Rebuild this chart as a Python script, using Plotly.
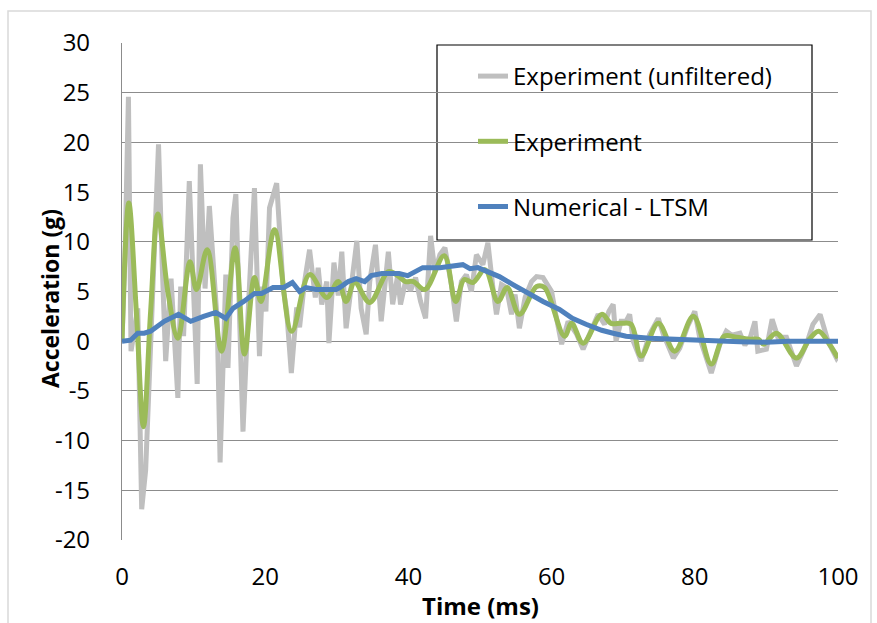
import plotly.graph_objects as go

# ---------------- data ----------------
time_raw = [0, 0.4, 0.9, 1.26, 1.7, 2.2, 2.75, 3.3, 3.8, 4.5, 5.1, 5.6, 6.1, 6.85, 7.3, 7.8, 8.2, 8.6,
            9.4, 9.9, 10.5, 10.95, 11.6, 12.2, 12.9, 13.3, 13.7, 14.1, 14.5, 14.8, 15.5, 15.9, 16.4,
            16.9, 17.6, 18.0, 18.5, 19.2, 19.6, 20.1, 20.6, 21.6, 22.5, 23.0, 23.65, 24.4, 24.8, 25.5,
            26.2, 27.0, 27.4, 27.9, 28.6, 28.9, 29.6, 30.2, 30.7, 31.3, 32.0, 32.8, 33.4, 34.1, 34.6,
            35.4, 36.2, 37.2, 37.8, 38.5, 38.9, 39.6, 40.3, 41.0, 41.7, 42.4, 43.1, 43.7, 44.4, 45.1,
            46.0, 46.7, 47.4, 48.1, 48.8, 49.5, 50.4, 51.1, 51.8, 52.3, 53.0, 53.7, 54.4, 54.9, 55.5,
            56.3, 57.2, 57.9, 58.8, 59.5, 60.0, 60.5, 61.4, 62.3, 63.0, 63.5, 64.4, 65.3, 66.5, 67.4,
            68.0, 68.6, 69.0, 69.7, 70.4, 70.9, 71.4, 72.5, 73.7, 74.9, 75.6, 77.0, 77.9, 79.0, 80.0,
            80.7, 81.5, 82.3, 83.5, 84.4, 85.2, 86.3, 87.0, 87.8, 88.4, 88.8, 90.0, 90.8, 91.6, 92.8,
            94.2, 95.6, 96.5, 97.5, 98.6, 99.8, 100]
accel_raw = [0, 8, 24.6, -1.0, 1, 3.3, -16.9, -13, -4, 8, 19.8, 8, -2.0, 6.3, 1, -5.7, 5.5, 0.5,
             16.1, 6, -4.3, 17.8, 5.3, 13.6, 7, 2, -12.2, -3, 6.7, -2.7, 12.4, 14.8, 3,
             -9.1, 2.7, 8, 15.4, -1.5, 5.5, 3, 13.4, 15.9, 5.4, 3, -3.2, 3.4, 1.4, 6,
             9.2, 4.4, 7.4, 3.7, 6.0, -0.2, 7.9, 4.6, 9.0, 1.3, 5, 10.1, 3.3, 0.7, 6,
             9.7, 2.0, 9.0, 3.7, 6.6, 3.7, 6.0, 5.1, 6.4, 4, 2.3, 10.6, 7.0, 8.7, 9.4,
             5.7, 2.0, 6, 6.7, 5, 8.7, 7.7, 9.9, 5.4, 2.7, 5.7, 5.4, 2.7, 4.7, 1.3,
             4.4, 6, 6.5, 6.4, 5.5, 5.0, 3.0, -0.3, 2.0, 1.3, 0.7, -0.8, 0.7, 2.7, 1.7,
             3.0, 3.7, 0, 2.0, 2.0, 2.7, 0, -2.0, 0.7, 2.3, 0.7, -1.7, -0.7, 1.5, 3.0,
             0.3, -1.5, -3.2, -0.3, 1.0, 0.6, 0.8, -0.4, 0.5, 2.0, -1.0, -0.8, 2.2, 0.4, 0.4,
             -2.5, -0.3, 1.7, 2.7, 0, -1.7, -1.5]

time_filt = [0, 0.95, 2.0, 3.0, 4.0, 5.0, 6.4, 7.8, 9.5, 10.4, 11.9, 13.9, 15.8, 17.1, 18.5, 19.4,
             21.3, 23.7, 26.2, 28.6, 30.2, 31.3, 32.5, 34.6, 37.2, 38.5, 39.6, 40.7, 42.3, 45.0,
             46.6, 47.8, 49.0, 50.7, 52.5, 53.8, 55.5, 57.9, 59.0, 61.8, 62.8, 64.4, 67.0, 68.3,
             69.7, 71.1, 72.5, 74.9, 77.2, 79.8, 82.3, 84.1, 85.8, 87.7, 88.9, 89.6, 91.4, 94.2,
             96.0, 97.3, 98.8, 100]
accel_filt = [0, 13.9, 3, -8.6, 3, 12.8, 5, 0.3, 8.0, 5.2, 9.2, -1.0, 9.4, -1.3, 6.4, 4.0,
              11.2, 1.0, 6.7, 4.4, 6.0, 4.0, 5.9, 3.9, 7.0, 6.6, 6.0, 6.0, 5.2, 8.6,
              4.0, 6.2, 5.9, 7.2, 4.0, 5.4, 2.7, 5.5, 5.4, 0.5, 1.8, -0.2, 2.7, 1.8,
              1.8, 1.7, -1.5, 1.8, -1.0, 2.5, -2.3, 0.5, 0.4, 0.2, 0.2, -0.3, 0.8, -1.7,
              0.2, 1.0, -0.3, -1.7]

time_num = [0, 1.2, 2.2, 3.1, 4.0, 5.9, 7.9, 9.6, 11.4, 13.1, 14.5, 15.5, 17.0, 18.5, 19.5, 21.1,
            22.6, 23.8, 24.8, 25.7, 27.1, 29.9, 30.4, 31.6, 32.7, 33.9, 34.8, 36.3, 38.7, 39.9,
            42.0, 44.4, 47.6, 48.6, 49.7, 51.3, 52.7, 54.6, 56.5, 58.8, 61.1, 62.9, 64.8, 67.0,
            68.6, 70.4, 73.7, 77.4, 80.7, 86.3, 90.0, 93.0, 100]
accel_num = [0, 0.1, 0.8, 0.8, 1.0, 2.0, 2.7, 2.0, 2.5, 2.9, 2.3, 3.3, 4.0, 4.8, 4.8, 5.4,
             5.4, 5.9, 5.0, 5.4, 5.2, 5.2, 5.4, 6.0, 6.3, 6.0, 6.6, 6.8, 6.8, 6.6,
             7.4, 7.4, 7.7, 7.3, 7.4, 6.9, 6.5, 5.7, 4.9, 4.0, 3.2, 2.3, 1.7, 1.1,
             0.8, 0.5, 0.3, 0.2, 0.0, -0.05, -0.1, 0.0, 0.0]

series_names = ["Experiment (unfiltered)", "Experiment", "Numerical - LTSM"]
series_colors = ["#bfbfbf", "#9bbb59", "#4f81bd"]

x_ticks = [0, 20, 40, 60, 80, 100]
y_ticks = [-20, -15, -10, -5, 0, 5, 10, 15, 20, 25, 30]
y_tick_labels = ["-20", "-15", "-10", "-5", "0", "5", "10", "15", "20", "25", "30"]

FONT = "Open Sans"

fig = go.Figure()
fig.add_trace(go.Scatter(x=time_raw, y=accel_raw, mode="lines", name=series_names[0],
                         line=dict(color=series_colors[0], width=5), legendgroup="a"))
fig.add_trace(go.Scatter(x=time_filt, y=accel_filt, mode="lines", name=series_names[1],
                         line=dict(color=series_colors[1], width=5, shape="spline", smoothing=1.0),
                         legendgroup="b"))
fig.add_trace(go.Scatter(x=time_num, y=accel_num, mode="lines", name=series_names[2],
                         line=dict(color=series_colors[2], width=5), legendgroup="c"))

W, H = 877, 623
L, R, T, B = 122, 877 - 838, 43, 623 - 540
pw, ph = W - L - R, H - T - B


def px2paper_x(px):
    return (px - L) / pw


def px2paper_y(py):
    return (H - B - py) / ph


fig.update_layout(
    width=W, height=H,
    margin=dict(l=L, r=R, t=T, b=B, pad=0),
    paper_bgcolor="white", plot_bgcolor="white",
    font=dict(family=FONT, size=24, color="#000000"),
    showlegend=True,
    legend=dict(
        x=px2paper_x(473), y=px2paper_y(54), xanchor="left", yanchor="top",
        bgcolor="rgba(0,0,0,0)", borderwidth=0,
        font=dict(family=FONT, size=24, color="#000000"),
        tracegroupgap=31, itemwidth=30,
    ),
    xaxis=dict(
        range=[0, 100], tickvals=x_ticks, showgrid=False, zeroline=False,
        showline=False, ticks="", ticklabelstandoff=20,
        tickfont=dict(family=FONT, size=24, color="#000000"),
    ),
    yaxis=dict(
        range=[-20, 30], tickvals=y_ticks, ticktext=y_tick_labels,
        showgrid=True, gridcolor="#8c8c8c", gridwidth=1.2,
        zeroline=False, showline=True, linecolor="#8c8c8c", linewidth=1.2, ticks="",
        ticklabelstandoff=26,
        tickfont=dict(family=FONT, size=24, color="#000000"),
    ),
    shapes=[
        # outer chart border
        dict(type="rect", xref="paper", yref="paper",
             x0=px2paper_x(8), x1=px2paper_x(871), y0=px2paper_y(660), y1=px2paper_y(11),
             line=dict(color="#d9d9d9", width=1.5), fillcolor="rgba(0,0,0,0)", layer="below"),
        # legend frame
        dict(type="rect", xref="paper", yref="paper",
             x0=px2paper_x(437), x1=px2paper_x(812), y0=px2paper_y(240), y1=px2paper_y(45),
             line=dict(color="#000000", width=1.2), fillcolor="white", layer="between"),
    ],
    annotations=[
        dict(text="<b>Time (ms)</b>", xref="paper", yref="paper",
             x=0.5, y=px2paper_y(605), xanchor="center", yanchor="middle", showarrow=False,
             font=dict(family=FONT, size=24, color="#000000")),
        dict(text="<b>Acceleration (g)</b>", xref="paper", yref="paper",
             x=px2paper_x(50), y=px2paper_y(299), xanchor="center", yanchor="middle",
             textangle=-90, showarrow=False,
             font=dict(family=FONT, size=23, color="#000000")),
    ],
)

fig.write_html("out.html", config={"displayModeBar": False},
               post_script="document.body.style.margin='0px';")
